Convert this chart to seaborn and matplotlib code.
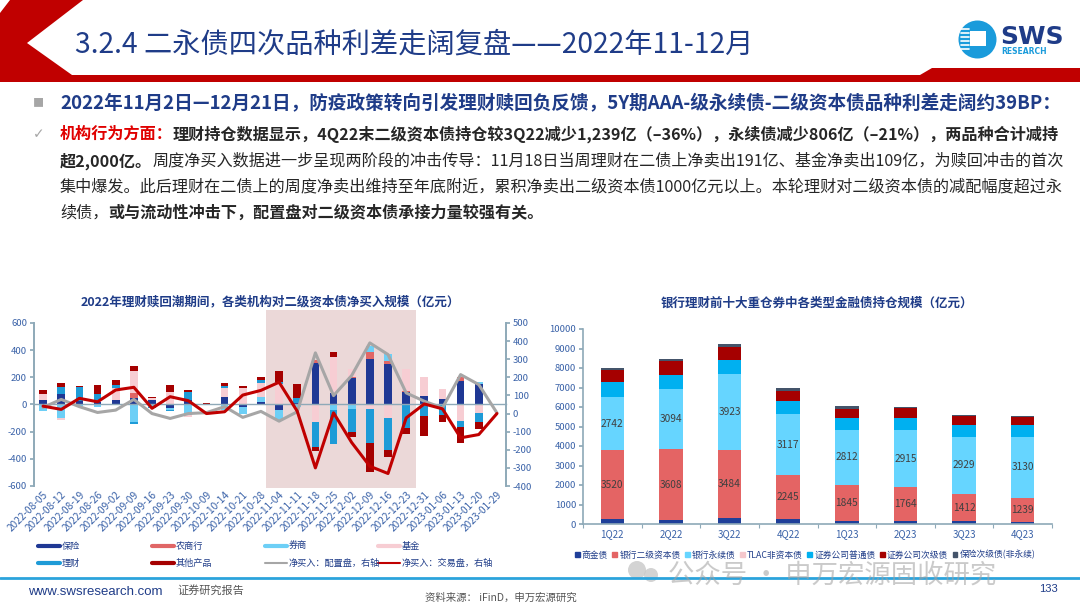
import numpy as np
import seaborn as sns
import matplotlib.pyplot as plt
from matplotlib.patches import Polygon, Circle, Rectangle, Patch
from matplotlib.lines import Line2D

sns.set_theme(style="white")
plt.rcParams['font.family'] = ['Noto Sans CJK SC', 'DejaVu Sans']
plt.rcParams['axes.unicode_minus'] = False

# ---- left chart: weekly net buying of tier-2 capital bonds (亿元)
weeks = ["2022-08-05", "2022-08-12", "2022-08-19", "2022-08-26", "2022-09-02", "2022-09-09",
         "2022-09-16", "2022-09-23", "2022-09-30", "2022-10-09", "2022-10-14", "2022-10-21",
         "2022-10-28", "2022-11-04", "2022-11-11", "2022-11-18", "2022-11-25", "2022-12-02",
         "2022-12-09", "2022-12-16", "2022-12-23", "2022-12-31", "2023-01-06", "2023-01-13",
         "2023-01-20", "2023-01-29"]
insurance = [35, 80, 25, 20, 34, 45, 30, -28, 35, 0, 55, -15, 22, -42, 10, 302, 85, 192, 335, 297, 93, 61, 38, 175, 150, 0]
rural_bank = [0, 0, 0, 0, 0, 40, 0, 0, 0, 0, 0, 0, 0, 0, 0, 25, 0, 8, 52, 25, 10, 0, 0, 25, 0, 0]
broker = [-50, -100, -10, -15, 0, -130, -15, -12, -80, 0, -40, -55, 30, -75, -20, 0, -40, -30, 45, 47, 0, 0, 0, 0, 15, 0]
fund = [45, -15, 0, 15, 86, 160, 15, 95, -15, 5, 70, 118, 105, 150, -5, -128, 265, 58, -30, -103, 155, 140, 78, -125, -66, 0]
wealth = [0, 50, 105, 45, 25, -10, -10, -5, 55, 0, 10, 0, 25, 17, 40, -184, -250, -170, -257, -235, -172, -86, -80, -38, -66, 0]
other = [30, 30, 5, 60, 32, 37, 12, 48, 20, 8, 20, 20, 18, 80, 103, -30, 35, -38, -210, -48, -42, -143, -48, -120, -50, 5]
alloc_net = [34, 78, 38, 6, 19, 78, 0, -27, 0, 5, 38, -21, 12, -42, 10, 335, 99, 210, 390, 326, 114, 68, 31, 215, 160, 4]
trade_net = [41, 23, 84, 65, 130, 145, 29, 93, 71, 0, 10, 102, 128, 173, 13, -300, 4, -160, -291, -331, -24, 53, 26, -134, -116, 0]

left_names = ["保险", "农商行", "券商", "基金", "理财", "其他产品"]
left_colors = ["#1F3894", "#E06666", "#6DCFF6", "#F7CDD3", "#1E9BD7", "#A50000"]

# ---- right chart: holdings of financial bonds in top-10 positions (亿元)
quarters = ["1Q22", "2Q22", "3Q22", "4Q22", "1Q23", "2Q23", "3Q23", "4Q23"]
policy_fin = [255, 220, 307, 255, 170, 136, 136, 100]
bank_tier2 = [3520, 3608, 3484, 2245, 1845, 1764, 1412, 1239]
bank_perp = [2742, 3094, 3923, 3117, 2812, 2915, 2929, 3130]
tlac = [0, 0, 0, 0, 0, 0, 0, 0]
sec_senior = [783, 740, 718, 670, 590, 600, 600, 608]
sec_sub = [597, 680, 630, 528, 494, 511, 460, 391]
ins_sub = [100, 137, 170, 170, 120, 60, 68, 85]

right_names = ["商金债", "银行二级资本债", "银行永续债", "TLAC非资本债", "证券公司普通债", "证券公司次级债", "保险次级债(非永续)"]
right_colors = ["#1F3F99", "#E46464", "#66D5FF", "#F4C7CC", "#00B0F0", "#A50000", "#44546A"]

NAVY = "#1F3C88"
TICK = "#3A62A8"
AXC = "#8EA9B8"

fig = plt.figure(figsize=(10.8, 6.08), dpi=100)

# slide background layer in pixel coordinates
bg = fig.add_axes([0, 0, 1, 1], zorder=0)
bg.set_xlim(0, 1080)
bg.set_ylim(608, 0)
bg.axis("off")

bg.add_patch(Polygon([(10, 0), (83, 0), (27, 43), (72, 75), (920, 75), (932, 68), (1080, 68),
                      (1080, 82), (0, 82), (0, 13)], closed=True, color="#C00000", lw=0))
bg.text(75, 45, "3.2.4 二永债四次品种利差走阔复盘——2022年11-12月", fontsize=20.3, color=NAVY,
        va="center", ha="left")

# logo
bg.add_patch(Circle((977.5, 39.5), 19, color="#1A9BDB", lw=0))
bg.add_patch(Rectangle((970, 31), 16, 15, color="white", lw=0))
for yy in [29, 33, 37, 41, 45, 49]:
    bg.plot([961, 969], [yy, yy], color="white", lw=1.2)
bg.text(1000, 37, "SWS", fontsize=18, fontweight="bold", color=NAVY, va="center", ha="left",
        family="DejaVu Sans")
bg.text(1001, 52, "RESEARCH", fontsize=5.5, fontweight="bold", color="#1A9BDB", va="center",
        ha="left", family="DejaVu Sans")

# body text with mixed weights
renderer = fig.canvas.get_renderer()
TXT = "#262626"
body = [
    (103, 13.4, [("2022年11月2日—12月21日，防疫政策转向引发理财赎回负反馈，5Y期AAA-级永续债-二级资本债品种利差走阔约39BP：", "bold", NAVY)]),
    (134, 11.6, [("机构行为方面：", "bold", "#E00000"),
                 ("理财持仓数据显示，4Q22末二级资本债持仓较3Q22减少1,239亿（–36%），永续债减少806亿（–21%），两品种合计减持", "bold", TXT)]),
    (161, 11.6, [("超2,000亿。", "bold", TXT),
                 ("周度净买入数据进一步呈现两阶段的冲击传导：11月18日当周理财在二债上净卖出191亿、基金净卖出109亿，为赎回冲击的首次", "normal", TXT)]),
    (187, 11.6, [("集中爆发。此后理财在二债上的周度净卖出维持至年底附近，累积净卖出二级资本债1000亿元以上。本轮理财对二级资本债的减配幅度超过永", "normal", TXT)]),
    (213, 11.6, [("续债，", "normal", TXT), ("或与流动性冲击下，配置盘对二级资本债承接力量较强有关。", "bold", TXT)]),
]
for y, fs, parts in body:
    x = 60
    for s, w, c in parts:
        t = bg.text(x, y, s, fontsize=fs, fontweight=w, color=c, va="center", ha="left")
        x += t.get_window_extent(renderer).width
bg.text(33, 103, "■", fontsize=8, color="#A6A6A6", va="center", ha="left")
bg.text(33, 134, "✓", fontsize=10, color="#A6A6A6", va="center", ha="left", family="DejaVu Sans")

# chart titles
bg.text(270, 302, "2022年理财赎回潮期间，各类机构对二级资本债净买入规模（亿元）", fontsize=9.0,
        fontweight="bold", color=NAVY, ha="center", va="center")
bg.text(817, 303, "银行理财前十大重仓券中各类型金融债持仓规模（亿元）", fontsize=9.0,
        fontweight="bold", color=NAVY, ha="center", va="center")

# ---- left chart
ax = fig.add_axes([34 / 1080, 1 - 486 / 608, 472 / 1080, 163 / 608], zorder=2)
ax.patch.set_alpha(0)
x = np.arange(len(weeks))
ax.axvspan(12.3, 20.55, ymin=-0.012, ymax=1.08, color="#EBD8D8", lw=0, zorder=0, clip_on=False)
pos = np.zeros(len(x))
neg = np.zeros(len(x))
for vals, c in zip([insurance, rural_bank, broker, fund, wealth, other], left_colors):
    v = np.asarray(vals, float)
    p = np.where(v > 0, v, 0)
    n = np.where(v < 0, v, 0)
    ax.bar(x, p, 0.42, bottom=pos, color=c, lw=0, zorder=2)
    ax.bar(x, n, 0.42, bottom=neg, color=c, lw=0, zorder=2)
    pos += p
    neg += n
ax.set_xlim(-0.5, len(weeks) - 0.5)
ax.set_ylim(-600, 600)
ax.set_yticks(range(-600, 601, 200))
ax.spines["bottom"].set_position(("data", 0))
for s in ["top", "right"]:
    ax.spines[s].set_visible(False)
ax.spines["left"].set_color(AXC)
ax.spines["left"].set_linewidth(1.4)
ax.spines["bottom"].set_color(AXC)
ax.spines["bottom"].set_linewidth(1.0)
ax.set_xticks(x)
ax.set_xticklabels(weeks, rotation=45, ha="right", rotation_mode="anchor", fontsize=7.3, color=TICK)
ax.set_xticks(np.arange(-0.5, len(weeks), 1), minor=True)
ax.tick_params(axis="x", which="major", length=0, pad=61)
ax.tick_params(axis="x", which="minor", length=3, direction="inout", color=AXC, width=0.8)
ax.tick_params(axis="y", length=3, direction="out", color=AXC, labelsize=6.8, labelcolor=TICK, pad=2)
ax.tick_params(left=True)
ax.grid(False)

ax2 = ax.twinx()
sns.lineplot(x=x, y=alloc_net, ax=ax2, color="#A6A6A6", linewidth=2.2, zorder=3)
sns.lineplot(x=x, y=trade_net, ax=ax2, color="#C00000", linewidth=2.2, zorder=4)
ax2.set_ylim(-400, 500)
ax2.set_yticks(range(-400, 501, 100))
ax2.set_ylabel("")
ax2.set_xlabel("")
for s in ["top", "left", "bottom"]:
    ax2.spines[s].set_visible(False)
ax2.spines["right"].set_color(AXC)
ax2.spines["right"].set_linewidth(1.4)
ax2.tick_params(axis="y", right=True, length=3, direction="out", color=AXC, labelsize=6.8,
                labelcolor=TICK, pad=2)
ax2.grid(False)

# left legend (fixed-width columns like the source)
leg_items = [("保险", left_colors[0], 4), ("农商行", left_colors[1], 4), ("券商", left_colors[2], 4),
             ("基金", left_colors[3], 4), ("理财", left_colors[4], 4), ("其他产品", left_colors[5], 4),
             ("净买入：配置盘，右轴", "#A6A6A6", 2), ("净买入：交易盘，右轴", "#C00000", 2)]
cols = [38, 152, 265, 378]
rows = [546, 563]
for i, (lab, c, lw) in enumerate(leg_items):
    x0 = cols[i % 4]
    y0 = rows[i // 4]
    bg.add_line(Line2D([x0, x0 + 22], [y0, y0], color=c, lw=lw * 0.75))
    bg.text(x0 + 24, y0, lab, fontsize=6.6, color=NAVY, va="center", ha="left")

# ---- right chart
ax3 = fig.add_axes([583 / 1080, 1 - 524 / 608, 469 / 1080, 195 / 608], zorder=2)
ax3.patch.set_alpha(0)
xq = np.arange(len(quarters))
bottom = np.zeros(len(xq))
for name, vals, c in zip(right_names, [policy_fin, bank_tier2, bank_perp, tlac, sec_senior, sec_sub, ins_sub],
                         right_colors):
    v = np.asarray(vals, float)
    bars = ax3.bar(xq, v, 0.4, bottom=bottom, color=c, lw=0, label=name)
    if name in ("银行二级资本债", "银行永续债"):
        ax3.bar_label(bars, labels=[str(int(a)) for a in v], label_type="center", fontsize=7.3,
                      color="#404040")
    bottom += v
ax3.set_xlim(-0.5, len(quarters) - 0.5)
ax3.set_ylim(0, 10000)
ax3.set_yticks(range(0, 10001, 1000))
ax3.set_xticks(xq)
ax3.set_xticklabels(quarters, fontsize=7, color=TICK)
ax3.set_xticks(np.arange(-0.5, len(quarters), 1), minor=True)
ax3.tick_params(axis="x", which="major", length=0, pad=4)
ax3.tick_params(axis="x", which="minor", length=3, direction="out", color=AXC, width=0.8, bottom=True)
ax3.tick_params(axis="y", left=True, length=3, direction="out", color=AXC, labelsize=6.8, labelcolor=TICK, pad=2)
for s in ["top", "right"]:
    ax3.spines[s].set_visible(False)
for s in ["left", "bottom"]:
    ax3.spines[s].set_color(AXC)
    ax3.spines[s].set_linewidth(1.2)
ax3.grid(False)

handles = [Patch(color=c, label=n) for n, c in zip(right_names, right_colors)]
fig.legend(handles=handles, loc="center", bbox_to_anchor=(805 / 1080, 1 - 555 / 608), ncol=7,
           fontsize=6.3, frameon=False, handlelength=0.55, handleheight=0.55, handletextpad=0.25,
           columnspacing=0.5, labelcolor=NAVY)

# watermark
bg.add_patch(Circle((637, 570), 9, color="#C8C8C8", alpha=0.8, lw=0))
bg.add_patch(Circle((651, 575), 7, color="#C8C8C8", alpha=0.8, lw=0))
bg.text(668, 575, "公众号 · 申万宏源固收研究", fontsize=19, color="#A0A0A0", alpha=0.55,
        va="center", ha="left", zorder=5)

# footer
bg.plot([0, 1080], [578, 578], color="#2BA3DC", lw=2)
bg.text(28, 592, "www.swsresearch.com", fontsize=9.5, color=NAVY, va="center", ha="left",
        family=["Liberation Sans", "DejaVu Sans"])
bg.text(177, 590, "证券研究报告", fontsize=8, color="#555555", va="center", ha="left")
bg.text(425, 598, "资料来源： iFinD，申万宏源研究", fontsize=7.5, color="#555555", va="center", ha="left")
bg.text(1058, 589, "133", fontsize=8, color=NAVY, va="center", ha="right",
        family=["Liberation Sans", "DejaVu Sans"])

fig.savefig("out.png", dpi=100)
